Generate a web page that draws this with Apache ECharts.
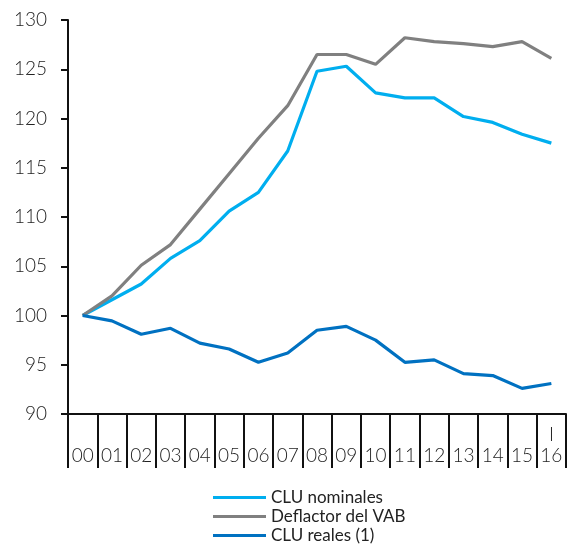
<!DOCTYPE html>
<html>
<head>
<meta charset="utf-8">
<script src="https://cdn.jsdelivr.net/npm/echarts@6/dist/echarts.min.js"></script>
<style>
  html, body { margin: 0; padding: 0; background: #fff; }
  #main { width: 571px; height: 545px; }
</style>
</head>
<body>
<div id="main"></div>
<script>
// años (etiquetas del eje x); el último es el primer trimestre de 2016
const years = ['00','01','02','03','04','05','06','07','08','09','10','11','12','13','14','15','16'];
const yearLabels = ['\n00','\n01','\n02','\n03','\n04','\n05','\n06','\n07','\n08','\n09','\n10','\n11','\n12','\n13','\n14','\n15','I\n16'];

const cluNominales = [100, 101.6, 103.2, 105.8, 107.6, 110.6, 112.5, 116.7, 124.8, 125.3, 122.6, 122.1, 122.1, 120.2, 119.6, 118.4, 117.5];
const deflactorVab = [100, 102.0, 105.1, 107.2, 110.8, 114.4, 118.0, 121.3, 126.5, 126.5, 125.5, 128.2, 127.8, 127.6, 127.3, 127.8, 126.1];
const cluReales   = [100, 99.45, 98.1, 98.7, 97.2, 96.6, 95.25, 96.2, 98.5, 98.9, 97.5, 95.25, 95.5, 94.1, 93.9, 92.6, 93.1];

const seriesNames = ['CLU nominales', 'Deflactor del VAB', 'CLU reales (1)'];
const seriesColors = ['#00AEEF', '#808080', '#0071C1'];

const fontFam = 'Lato, "Open Sans", sans-serif';

let chart = echarts.init(document.getElementById('main'));

function makeSeries(i, data) {
    return {
        name: seriesNames[i],
        type: 'line',
        data: data,
        symbol: 'none',
        smooth: false,
        lineStyle: { width: 3.2, color: seriesColors[i] },
        itemStyle: { color: seriesColors[i] },
        emphasis: { disabled: true }
    };
}

let option = {
    animation: false,
    grid: { left: 68, right: 5, top: 20, bottom: 131 },
    legend: {
        orient: 'vertical',
        left: 208,
        top: 483,
        height: 80,
        icon: 'rect',
        itemWidth: 53,
        itemHeight: 3,
        itemGap: 0,
        data: seriesNames,
        textStyle: { fontFamily: fontFam, fontSize: 17, lineHeight: 19, color: '#222', padding: [0, 0, 0, 0] }
    },
    xAxis: {
        type: 'category',
        data: years,
        boundaryGap: true,
        axisLine: { lineStyle: { color: '#111', width: 2 } },
        axisTick: { show: true, length: 54, lineStyle: { color: '#111', width: 2 } },
        axisLabel: {
            interval: 0,
            margin: 10,
            fontFamily: fontFam,
            fontWeight: 300,
            fontSize: 19,
            lineHeight: 21,
            color: '#222',
            formatter: function (v, i) { return yearLabels[i]; }
        },
        splitLine: { show: false }
    },
    yAxis: {
        type: 'value',
        min: 90,
        max: 130,
        interval: 5,
        axisLine: { show: true, lineStyle: { color: '#111', width: 2 } },
        axisTick: { show: true, length: 7, lineStyle: { color: '#111', width: 2 } },
        axisLabel: {
            margin: 21,
            fontFamily: fontFam,
            fontWeight: 300,
            fontSize: 19,
            color: '#222'
        },
        splitLine: { show: false }
    },
    series: [
        makeSeries(0, cluNominales),
        makeSeries(1, deflactorVab),
        makeSeries(2, cluReales)
    ]
};

chart.setOption(option);
</script>
</body>
</html>
